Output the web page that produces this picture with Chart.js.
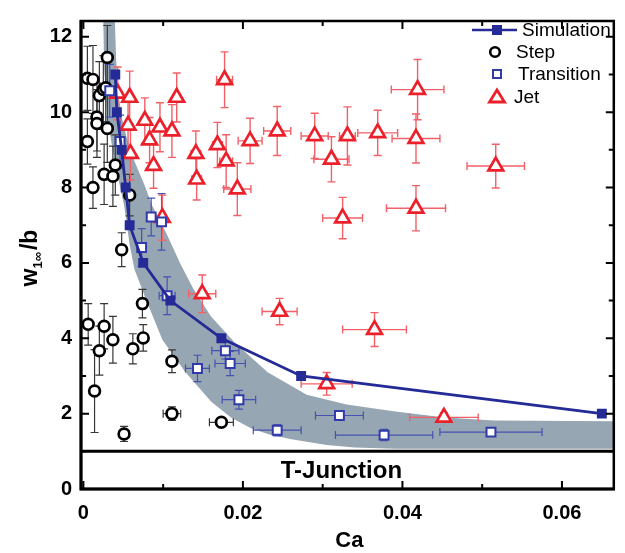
<!DOCTYPE html>
<html><head><meta charset="utf-8">
<script src="https://cdn.jsdelivr.net/npm/chart.js@4.4.1/dist/chart.umd.min.js"></script>
<style>html,body{margin:0;padding:0;background:#fff;}canvas{display:block;}</style>
</head><body>
<canvas id="c" width="625" height="553"></canvas>
<script>
// ---- data ----
const xTicks = [0, 0.02, 0.04, 0.06];
const xMinorTicks = [0.01, 0.03, 0.05];
const xTickLabels = ['0', '0.02', '0.04', '0.06'];
const yTicks = [0, 2, 4, 6, 8, 10, 12];
const yMinorTicks = [1, 3, 5, 7, 9, 11];

const simCa = [0.004, 0.0042, 0.0048, 0.0053, 0.0058, 0.0075, 0.0109, 0.0173, 0.0273, 0.065];
const simW  = [11, 10, 9, 8, 7, 6, 5, 4, 3, 2];

const stepCa   = [0.0005,0.0012,0.002,0.0025,0.0028,0.003,0.0005,0.0017,0.0017,0.003,0.0012,0.0026,0.0037,0.004,0.0058,0.0048,0.0074,0.0006,0.0026,0.002,0.0037,0.0062,0.0075,0.0014,0.0111,0.0111,0.0051,0.0173];
const stepW    = [10.9,10.87,10.44,10.6,10.65,11.45,9.22,9.87,9.7,9.57,8.0,8.35,8.3,8.6,7.8,6.35,4.92,4.37,4.32,3.67,3.96,3.72,4.01,2.6,3.39,2.0,1.46,1.77];
const stepErrW = [0.85,0.9,0.9,0.9,0.9,0.85,0.6,0.9,0.9,0.9,0.55,0.8,0.8,0.8,0.55,0.45,0.38,0.55,0.6,0.65,0.62,0.4,0.35,1.1,0.3,0.18,0.2,0.1];
const stepErrCa= [0,0,0,0,0,0,0,0,0,0,0,0,0,0,0,0,0,0,0,0,0,0.0005,0.0005,0,0.0006,0.0011,0.0006,0.0015];

const transCa   = [0.0033,0.0046,0.0085,0.0098,0.0073,0.0105,0.0178,0.0184,0.0143,0.0195,0.0243,0.0321,0.0377,0.0511];
const transW    = [10.57,9.22,7.22,7.09,6.41,5.13,3.67,3.33,3.2,2.37,1.56,1.95,1.43,1.51];
const transErrW = [0.7,0.7,0.5,0.75,0.5,0.5,0.22,0.32,0.35,0.25,0.15,0.12,0.15,0.1];
const transErrCa= [0,0.0005,0,0,0.0005,0.001,0.0017,0.0019,0.0015,0.0021,0.003,0.003,0.0061,0.0064];

const jetCa   = [0.0043,0.0058,0.0056,0.0059,0.0077,0.0083,0.0088,0.0096,0.0099,0.0111,0.0117,0.0141,0.0142,0.0168,0.0177,0.0179,0.0193,0.0209,0.0243,0.0149,0.0246,0.029,0.0311,0.0331,0.0369,0.0417,0.0419,0.0517,0.0325,0.0417,0.0365,0.0305,0.0452];
const jetW    = [10.5,10.39,9.65,8.9,9.78,9.26,8.58,9.6,7.2,9.5,10.39,8.9,8.22,9.13,10.86,8.7,7.96,9.24,9.5,5.18,4.71,9.37,8.75,9.37,9.45,9.3,10.6,8.57,7.19,7.45,4.23,2.79,1.9];
const jetErrW = [0.7,0.7,0.7,0.7,0.6,0.6,0.6,0.65,0.6,0.7,0.65,0.6,0.55,0.6,0.74,0.7,0.7,0.6,0.65,0.5,0.35,0.6,0.6,0.77,0.6,0.65,0.8,0.58,0.55,0.6,0.45,0.3,0.12];
const jetErrCa= [0,0.0004,0.0004,0.0004,0.0004,0.0004,0.0004,0.0004,0.0004,0.0004,0.0004,0.0006,0.0006,0.0006,0.001,0.0008,0.0017,0.0015,0.0017,0.0017,0.0022,0.0017,0.0022,0.001,0.0025,0.003,0.0033,0.0036,0.0025,0.0037,0.004,0.0032,0.0043];

// grey band outline: upper/right edge then lower/left edge (closed shape)
const bandCa = [0.00395,0.0041,0.0043,0.0048,0.0054,0.0064,0.0077,0.0086,0.0105,0.0122,0.0138,0.016,0.019,0.0231,0.028,0.033,0.0391,0.0453,0.0515,0.0665,
                0.0665,0.0391,0.034,0.0305,0.0259,0.0232,0.021,0.0185,0.016,0.0128,0.0099,0.0079,0.0064,0.0058,0.0051,0.0043,0.0036,0.003,0.0026,0.0025];
const bandW  = [12.42,11.43,10.65,9.87,9.35,8.7,8.05,7.53,6.74,5.96,5.31,4.58,3.88,3.1,2.5,2.24,2.06,1.9,1.82,1.8,
                1.07,1.07,1.1,1.17,1.33,1.45,1.61,1.9,2.32,3.1,3.96,5.0,5.83,6.48,7.53,8.31,9.09,9.87,11.17,12.42];

const tJunctionW = 1;

// ---- helpers ----
const pts = (xs, ys) => xs.map((x, i) => ({x, y: ys[i]}));
const FONT = "'Liberation Sans', Arial, sans-serif";
const C_SIM = 'rgb(36,42,150)';
const C_TRANS = 'rgb(48,58,168)';
const C_JET = 'rgb(236,32,42)';
const C_JET_ERR = 'rgb(242,96,104)';
const C_STEP_ERR = 'rgb(55,55,55)';
const C_TRANS_ERR = 'rgb(70,82,178)';
const C_BAND = 'rgb(150,166,178)';

const errSets = [
  {xs: stepCa, ys: stepW, ey: stepErrW, ex: stepErrCa, color: C_STEP_ERR, lw: 1.2},
  {xs: transCa, ys: transW, ey: transErrW, ex: transErrCa, color: C_TRANS_ERR, lw: 1.2},
  {xs: jetCa, ys: jetW, ey: jetErrW, ex: jetErrCa, color: C_JET_ERR, lw: 1.4},
];

const BAND_INDEX = 4;

const plotPlugin = {
  id: 'plotPlugin',
  afterDatasetDraw(chart, args) {
    if (args.index !== BAND_INDEX) return;
    const ctx = chart.ctx, xs = chart.scales.x, ys = chart.scales.y, a = chart.chartArea;
    ctx.save();
    ctx.beginPath(); ctx.rect(a.left, a.top, a.right - a.left, a.bottom - a.top); ctx.clip();
    const cap = 4;
    errSets.forEach(s => {
      ctx.strokeStyle = s.color; ctx.lineWidth = s.lw;
      s.xs.forEach((xv, i) => {
        const px = xs.getPixelForValue(xv), py = ys.getPixelForValue(s.ys[i]);
        if (s.ey[i] > 0) {
          const t = ys.getPixelForValue(s.ys[i] + s.ey[i]), b = ys.getPixelForValue(s.ys[i] - s.ey[i]);
          ctx.beginPath();
          ctx.moveTo(px, t); ctx.lineTo(px, b);
          ctx.moveTo(px - cap, t); ctx.lineTo(px + cap, t);
          ctx.moveTo(px - cap, b); ctx.lineTo(px + cap, b);
          ctx.stroke();
        }
        if (s.ex[i] > 0) {
          const l = xs.getPixelForValue(xv - s.ex[i]), r = xs.getPixelForValue(xv + s.ex[i]);
          ctx.beginPath();
          ctx.moveTo(l, py); ctx.lineTo(r, py);
          ctx.moveTo(l, py - cap); ctx.lineTo(l, py + cap);
          ctx.moveTo(r, py - cap); ctx.lineTo(r, py + cap);
          ctx.stroke();
        }
      });
    });
    // T-junction line
    const ty = ys.getPixelForValue(tJunctionW);
    ctx.strokeStyle = '#000'; ctx.lineWidth = 3;
    ctx.beginPath(); ctx.moveTo(a.left, ty); ctx.lineTo(a.right, ty); ctx.stroke();
    ctx.restore();
  },
  afterDraw(chart) {
    const ctx = chart.ctx, xs = chart.scales.x, ys = chart.scales.y, a = chart.chartArea;
    ctx.save();
    // inward ticks
    ctx.strokeStyle = '#000'; ctx.lineWidth = 2;
    const yt = (v, len) => {
      const p = ys.getPixelForValue(v);
      ctx.beginPath(); ctx.moveTo(a.left, p); ctx.lineTo(a.left + len, p);
      ctx.moveTo(a.right, p); ctx.lineTo(a.right - len, p); ctx.stroke();
    };
    const xt = (v, len) => {
      const p = xs.getPixelForValue(v);
      ctx.beginPath(); ctx.moveTo(p, a.bottom); ctx.lineTo(p, a.bottom - len);
      ctx.moveTo(p, a.top); ctx.lineTo(p, a.top + len); ctx.stroke();
    };
    yTicks.forEach(v => yt(v, 8)); yMinorTicks.forEach(v => yt(v, 5));
    xTicks.forEach(v => xt(v, 8)); xMinorTicks.forEach(v => xt(v, 5));
    // frame
    ctx.lineWidth = 2.5;
    ctx.strokeRect(a.left, a.top, a.right - a.left, a.bottom - a.top);
    ctx.lineWidth = 3;
    ctx.beginPath(); ctx.moveTo(a.left, a.top - 1); ctx.lineTo(a.left, a.bottom); ctx.lineTo(a.right + 1, a.bottom); ctx.stroke();

    // T-Junction label
    const ty = ys.getPixelForValue(tJunctionW);
    ctx.fillStyle = '#000';
    ctx.font = `bold 24px ${FONT}`;
    ctx.textAlign = 'center'; ctx.textBaseline = 'middle';
    ctx.fillText('T-Junction', (a.left + a.right) / 2 - 6, (ty + a.bottom) / 2 + 1);

    // axis titles
    ctx.font = `bold 22px ${FONT}`;
    ctx.fillText('Ca', (a.left + a.right) / 2 + 2, 541);
    ctx.save();
    ctx.translate(29, 258); ctx.rotate(-Math.PI / 2);
    ctx.textAlign = 'left'; ctx.textBaseline = 'alphabetic';
    const f1 = `bold 23px ${FONT}`, f2 = `bold 13px ${FONT}`;
    ctx.font = f1; const wW = ctx.measureText('w').width;
    ctx.font = f2; const sW = ctx.measureText('1\u221E').width;
    ctx.font = f1; const bW = ctx.measureText('/b').width;
    let x0 = -(wW + sW + bW + 2) / 2;
    ctx.font = f1; ctx.fillText('w', x0, 8); x0 += wW;
    ctx.font = f2; ctx.fillText('1\u221E', x0, 13); x0 += sW + 2;
    ctx.font = f1; ctx.fillText('/b', x0, 8);
    ctx.restore();

    // legend
    const lx = 497, rows = [30, 52, 74, 97];
    ctx.textAlign = 'left'; ctx.textBaseline = 'middle';
    ctx.font = `19px ${FONT}`; ctx.fillStyle = '#000';
    // Simulation
    ctx.strokeStyle = C_SIM; ctx.lineWidth = 2.5;
    ctx.beginPath(); ctx.moveTo(lx - 25, rows[0]); ctx.lineTo(lx + 20, rows[0]); ctx.stroke();
    ctx.fillStyle = C_SIM; ctx.fillRect(lx - 5, rows[0] - 5, 10, 10);
    ctx.fillStyle = '#000'; ctx.fillText('Simulation', lx + 25, rows[0] + 1);
    // Step
    ctx.strokeStyle = '#000'; ctx.lineWidth = 2.6; ctx.fillStyle = '#fff';
    ctx.beginPath(); ctx.arc(lx - 2, rows[1], 4.8, 0, Math.PI * 2); ctx.fill(); ctx.stroke();
    ctx.fillStyle = '#000'; ctx.fillText('Step', lx + 19, rows[1] + 1);
    // Transition
    ctx.strokeStyle = C_TRANS; ctx.lineWidth = 2; ctx.fillStyle = '#fff';
    ctx.fillRect(lx - 4, rows[2] - 4, 8, 8); ctx.strokeRect(lx - 4, rows[2] - 4, 8, 8);
    ctx.fillStyle = '#000'; ctx.fillText('Transition', lx + 21, rows[2] + 1);
    // Jet
    ctx.strokeStyle = C_JET; ctx.lineWidth = 2.8; ctx.fillStyle = '#fff';
    ctx.beginPath(); ctx.moveTo(lx, rows[3] - 7); ctx.lineTo(lx + 7.5, rows[3] + 5); ctx.lineTo(lx - 7.5, rows[3] + 5); ctx.closePath();
    ctx.fill(); ctx.stroke();
    ctx.fillStyle = '#000'; ctx.fillText('Jet', lx + 17, rows[3] + 1);
    ctx.restore();
  }
};

new Chart(document.getElementById('c'), {
  type: 'scatter',
  data: {
    datasets: [
      {label: 'Simulation', data: pts(simCa, simW), showLine: true, borderColor: C_SIM, borderWidth: 2.8,
       pointStyle: 'rect', pointRadius: 7, pointBackgroundColor: C_SIM, pointBorderColor: C_SIM, pointBorderWidth: 0, tension: 0},
      {label: 'Transition', data: pts(transCa, transW), pointStyle: 'rect', pointRadius: 6.3,
       pointBackgroundColor: '#fff', pointBorderColor: C_TRANS, pointBorderWidth: 2},
      {label: 'Step', data: pts(stepCa, stepW), pointStyle: 'circle', pointRadius: 5.4,
       pointBackgroundColor: '#fff', pointBorderColor: '#000', pointBorderWidth: 2.7},
      {label: 'Jet', data: pts(jetCa, jetW), pointStyle: 'triangle', pointRadius: 8.5,
       pointBackgroundColor: '#fff', pointBorderColor: C_JET, pointBorderWidth: 2.7},
      {label: 'band', data: pts(bandCa, bandW), showLine: true, fill: 'shape', backgroundColor: C_BAND,
       borderColor: 'rgba(0,0,0,0)', borderWidth: 0, pointRadius: 0, tension: 0}
    ]
  },
  options: {
    responsive: false, animation: false, devicePixelRatio: 1,
    layout: {padding: {top: 12, right: 3, left: 0, bottom: 0}},
    plugins: {legend: {display: false}, tooltip: {enabled: false}},
    scales: {
      x: {type: 'linear', min: -0.0003, max: 0.0665,
          afterBuildTicks: s => { s.ticks = xTicks.map(v => ({value: v})); },
          afterFit: s => { s.height = 64; },
          grid: {display: false, drawTicks: false}, border: {display: false},
          ticks: {padding: 12, color: '#000', font: {family: FONT, size: 20, weight: 'bold'},
                  maxRotation: 0, callback: (v) => { const i = xTicks.indexOf(v); return i >= 0 ? xTickLabels[i] : ''; }}},
      y: {type: 'linear', min: 0, max: 12.42,
          afterBuildTicks: s => { s.ticks = yTicks.map(v => ({value: v})); },
          afterFit: s => { s.width = 81; },
          grid: {display: false, drawTicks: false}, border: {display: false},
          ticks: {padding: 9, color: '#000', font: {family: FONT, size: 20, weight: 'bold'}, callback: v => String(v)}}
    }
  },
  plugins: [plotPlugin]
});
</script>
</body></html>
